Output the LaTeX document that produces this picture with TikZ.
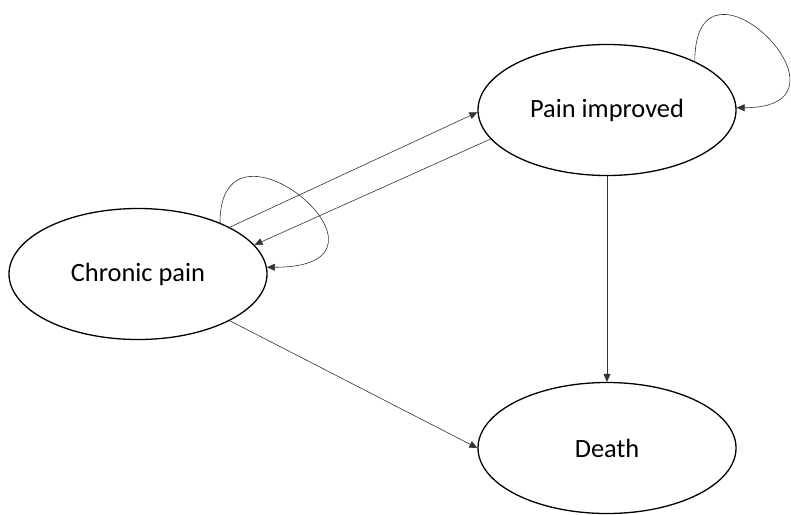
\documentclass[tikz,border=0pt]{standalone}
\usepackage{fontspec}
\setmainfont{Carlito}
\usetikzlibrary{shapes.geometric,arrows.meta}

\begin{document}
\begin{tikzpicture}[x=1pt, y=1pt,
  state/.style={draw, ellipse, line width=1.3pt, minimum width=258pt, minimum height=131pt, font=\fontsize{26.4}{31}\selectfont},
  trans/.style={draw, line width=0.6pt, black!80, -{Triangle[length=8pt,width=7pt]}}]

  \useasboundingbox (0,0) rectangle (791,-514);

  % States
  \node[state] (PI) at (607,-110) {Pain improved};
  \node[state] (CP) at (138,-274) {Chronic pain};
  \node[state] (D) at (607,-448) {Death};

  % Transitions
  \draw[trans] (CP.27) -- (PI.181);
  \draw[trans] (PI.194) -- (CP.14);
  \draw[trans] (CP.-27) -- (D.180);
  \draw[trans] (PI.south) -- (D.north);

  % Self loops
  \draw[trans] (PI.29) .. controls +(0,128) and +(134,0) .. (PI.1);
  \draw[trans] (CP.32) .. controls +(0,126) and +(155,0) .. (CP.3);

\end{tikzpicture}
\end{document}
